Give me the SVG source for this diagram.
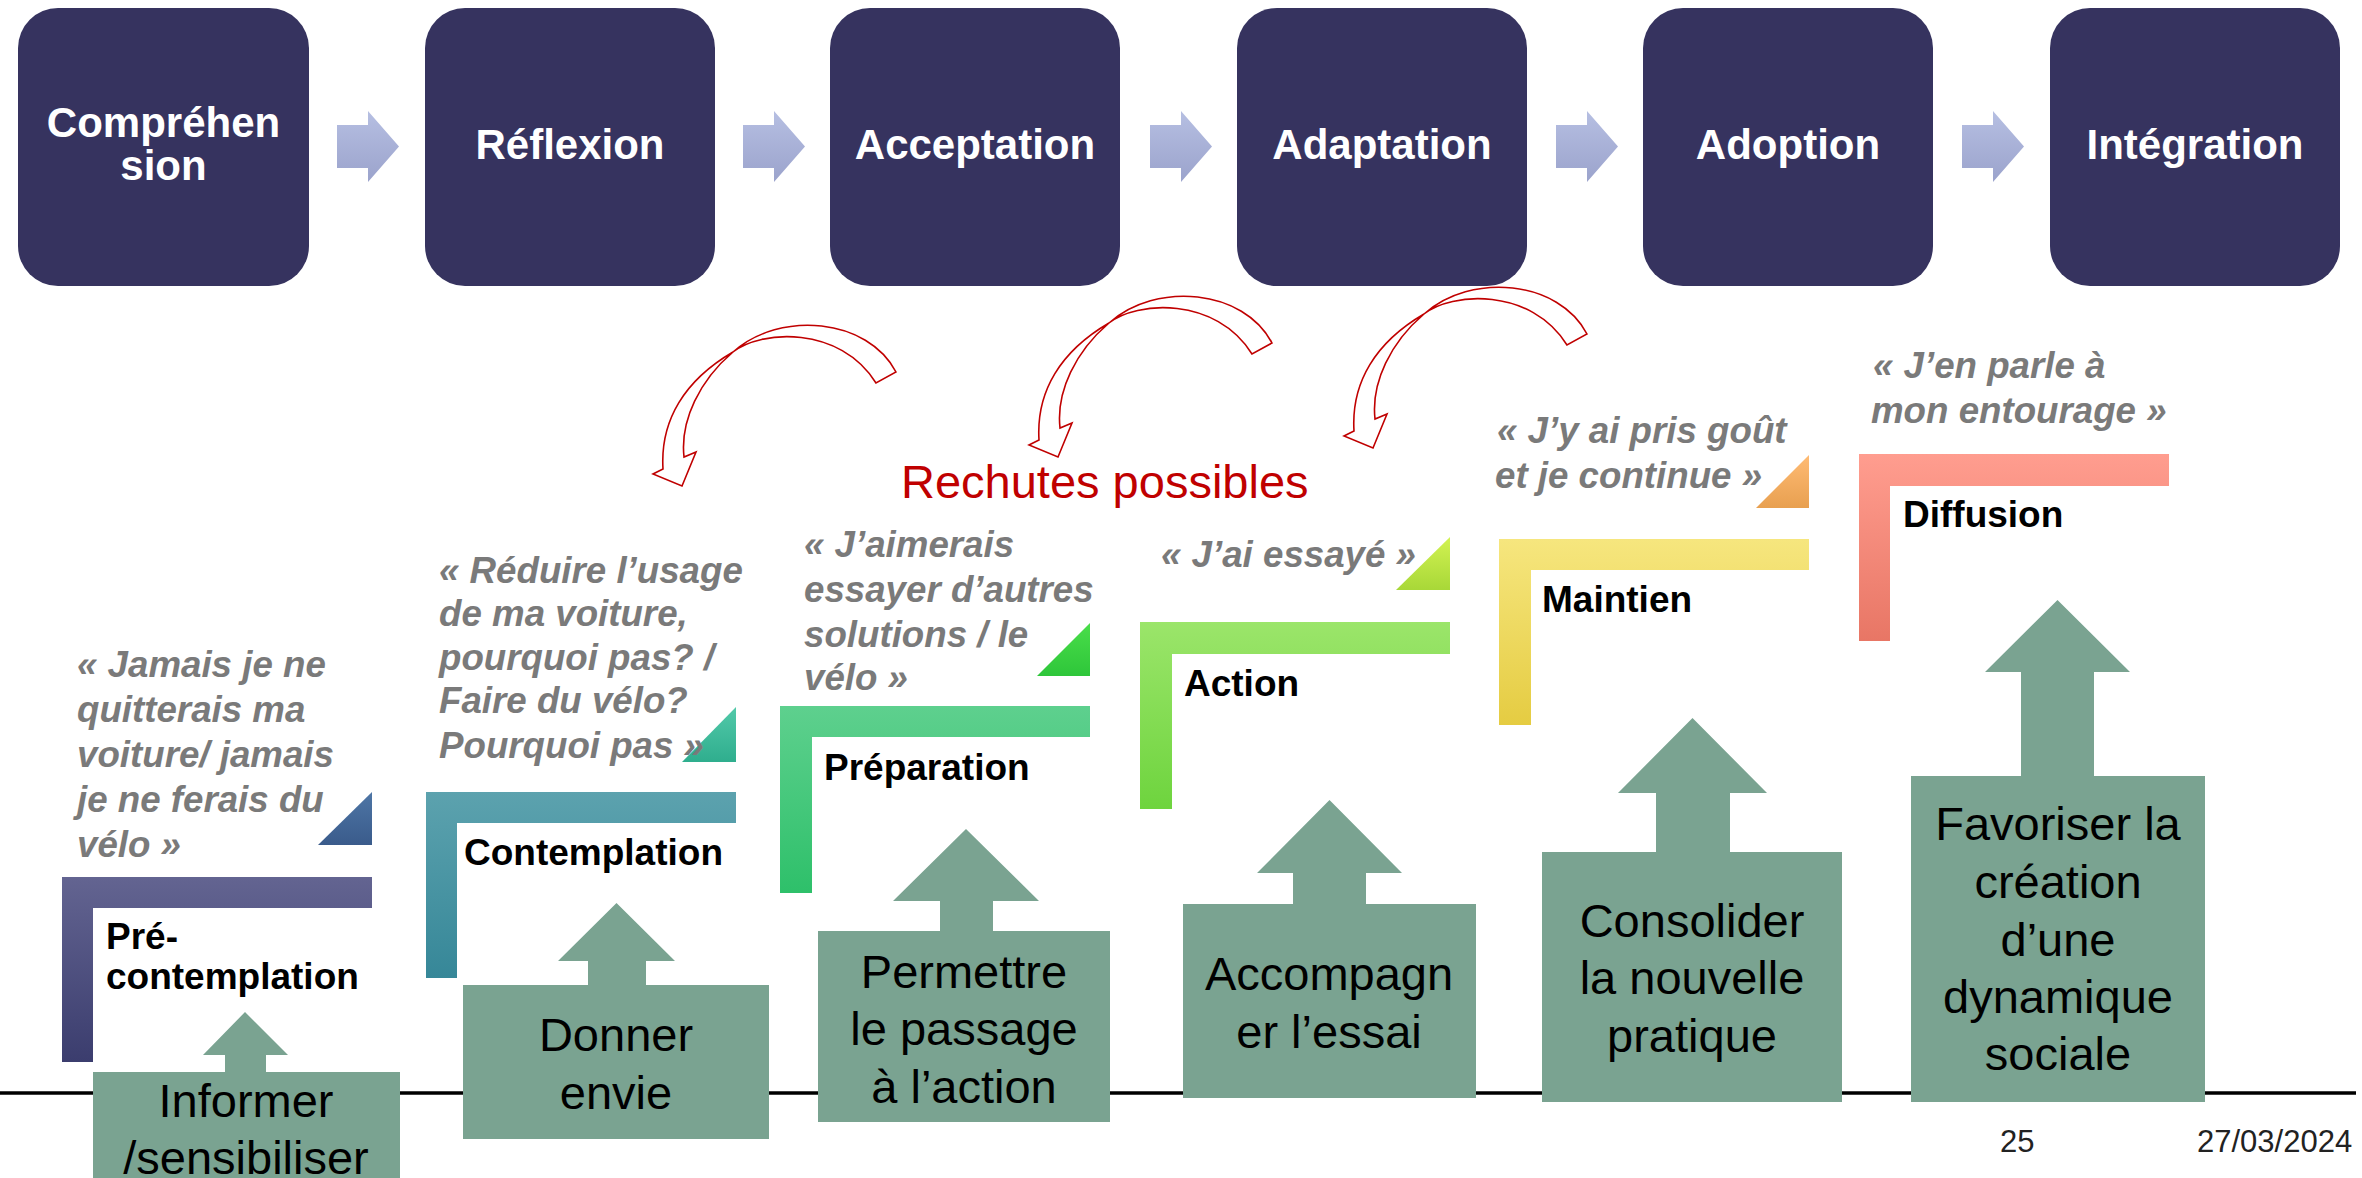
<svg xmlns="http://www.w3.org/2000/svg" width="2362" height="1178" viewBox="0 0 2362 1178">
<defs>
<linearGradient id="gArr" x1="0" y1="0" x2="0" y2="1"><stop offset="0" stop-color="#b6bfe2"/><stop offset="1" stop-color="#9ba3cc"/></linearGradient>
<linearGradient id="gL1" x1="0" y1="0" x2="0" y2="1"><stop offset="0" stop-color="#636491"/><stop offset="1" stop-color="#3b3d6e"/></linearGradient>
<linearGradient id="gT1" x1="0" y1="0" x2="0" y2="1"><stop offset="0" stop-color="#4e76a6"/><stop offset="1" stop-color="#3a5b8b"/></linearGradient>
<linearGradient id="gL2" x1="0" y1="0" x2="0" y2="1"><stop offset="0" stop-color="#5ca2ae"/><stop offset="1" stop-color="#368798"/></linearGradient>
<linearGradient id="gT2" x1="0" y1="0" x2="0" y2="1"><stop offset="0" stop-color="#52c9a9"/><stop offset="1" stop-color="#2fae8e"/></linearGradient>
<linearGradient id="gL3" x1="0" y1="0" x2="0" y2="1"><stop offset="0" stop-color="#5ed08e"/><stop offset="1" stop-color="#2ec06a"/></linearGradient>
<linearGradient id="gT3" x1="0" y1="0" x2="0" y2="1"><stop offset="0" stop-color="#4ade4a"/><stop offset="1" stop-color="#2ec63a"/></linearGradient>
<linearGradient id="gL4" x1="0" y1="0" x2="0" y2="1"><stop offset="0" stop-color="#9be56a"/><stop offset="1" stop-color="#6ed43e"/></linearGradient>
<linearGradient id="gT4" x1="0" y1="0" x2="0" y2="1"><stop offset="0" stop-color="#d2f252"/><stop offset="1" stop-color="#a8d838"/></linearGradient>
<linearGradient id="gL5" x1="0" y1="0" x2="0" y2="1"><stop offset="0" stop-color="#f6e67e"/><stop offset="1" stop-color="#e5cc42"/></linearGradient>
<linearGradient id="gT5" x1="0" y1="0" x2="0" y2="1"><stop offset="0" stop-color="#ffbb74"/><stop offset="1" stop-color="#e8a050"/></linearGradient>
<linearGradient id="gL6" x1="0" y1="0" x2="0" y2="1"><stop offset="0" stop-color="#ff9d8f"/><stop offset="1" stop-color="#e87665"/></linearGradient>
<path id="rechute" d="M 896 372 C 868 318 780 310 733 352 C 700 380 680 420 684 457 L 696 452 L 682 486 L 653 474 L 663 469 C 660 420 685 380 733 352 C 760 330 840 325 876 383 Z"/>
</defs>
<style>
text{font-family:"Liberation Sans",Arial,sans-serif}
.top{fill:#36335f}
.tt{fill:#fff;font-weight:bold;font-size:42px;text-anchor:middle}
.q{fill:#7a7a7a;font-weight:bold;font-style:italic;font-size:36.7px}
.lab{fill:#000;font-weight:bold;font-size:37px}
.act{fill:#7aa391}
.at{fill:#000;font-size:47px;text-anchor:middle}
.red{fill:#fff;stroke:#c00000;stroke-width:1.6}
.foot{fill:#222;font-size:31px}
</style>
<rect width="2362" height="1178" fill="#fff"/>

<!-- top process -->
<g id="n-comprehension"><rect class="top" x="18" y="8" width="291" height="278" rx="40"/><text class="tt" x="163.5" y="137">Compréhen</text><text class="tt" x="163.5" y="180">sion</text></g>
<g id="n-reflexion"><rect class="top" x="425" y="8" width="290" height="278" rx="40"/><text class="tt" x="570" y="159">Réflexion</text></g>
<g id="n-acceptation"><rect class="top" x="830" y="8" width="290" height="278" rx="40"/><text class="tt" x="975" y="159">Acceptation</text></g>
<g id="n-adaptation"><rect class="top" x="1237" y="8" width="290" height="278" rx="40"/><text class="tt" x="1382" y="159">Adaptation</text></g>
<g id="n-adoption"><rect class="top" x="1643" y="8" width="290" height="278" rx="40"/><text class="tt" x="1788" y="159">Adoption</text></g>
<g id="n-integration"><rect class="top" x="2050" y="8" width="290" height="278" rx="40"/><text class="tt" x="2195" y="159">Intégration</text></g>

<g id="connectors">
<path fill="url(#gArr)" d="M337 125 H368 V111 L399 146.5 L368 182 V168 H337 Z"/>
<path fill="url(#gArr)" d="M743 125 H774 V111 L805 146.5 L774 182 V168 H743 Z"/>
<path fill="url(#gArr)" d="M1150 125 H1181 V111 L1212 146.5 L1181 182 V168 H1150 Z"/>
<path fill="url(#gArr)" d="M1556 125 H1587 V111 L1618 146.5 L1587 182 V168 H1556 Z"/>
<path fill="url(#gArr)" d="M1962 125 H1993 V111 L2024 146.5 L1993 182 V168 H1962 Z"/>
<use href="#rechute" class="red"/>
<use href="#rechute" class="red" transform="translate(376,-29)"/>
<use href="#rechute" class="red" transform="translate(691,-38)"/>
</g>

<text x="901" y="498" fill="#c00000" font-size="47" font-family="Liberation Sans, Arial, sans-serif">Rechutes possibles</text>

<!-- baseline -->
<line x1="0" y1="1093" x2="2356" y2="1093" stroke="#000" stroke-width="3.5"/>

<!-- stages -->
<g id="s-precontemplation">
<path fill="url(#gL1)" d="M62 877 H372 V908 H93 V1062 H62 Z"/>
<path fill="url(#gT1)" d="M318 845 L372 792 V845 Z"/>
<text class="q"><tspan x="77" y="677">« Jamais je ne</tspan><tspan x="77" y="722">quitterais ma</tspan><tspan x="77" y="767">voiture/ jamais</tspan><tspan x="77" y="812">je ne ferais du</tspan><tspan x="77" y="857">vélo »</tspan></text>
<text class="lab"><tspan x="106" y="949">Pré-</tspan><tspan x="106" y="989">contemplation</tspan></text>
</g>
<g id="s-contemplation">
<path fill="url(#gL2)" d="M426 792 H736 V823 H457 V978 H426 Z"/>
<path fill="url(#gT2)" d="M682 762 L736 707 V762 Z"/>
<text class="q"><tspan x="439" y="583">« Réduire l’usage</tspan><tspan x="439" y="626">de ma voiture,</tspan><tspan x="439" y="670">pourquoi pas? /</tspan><tspan x="439" y="713">Faire du vélo?</tspan><tspan x="439" y="758">Pourquoi pas »</tspan></text>
<text class="lab" x="464" y="865">Contemplation</text>
</g>
<g id="s-preparation">
<path fill="url(#gL3)" d="M780 706 H1090 V737 H812 V893 H780 Z"/>
<path fill="url(#gT3)" d="M1037 676 L1090 623 V676 Z"/>
<text class="q"><tspan x="804" y="557">« J’aimerais</tspan><tspan x="804" y="602">essayer d’autres</tspan><tspan x="804" y="647">solutions / le</tspan><tspan x="804" y="690">vélo »</tspan></text>
<text class="lab" x="824" y="780">Préparation</text>
</g>
<g id="s-action">
<path fill="url(#gL4)" d="M1140 622 H1450 V654 H1172 V809 H1140 Z"/>
<path fill="url(#gT4)" d="M1396 590 L1450 537 V590 Z"/>
<text class="q" x="1161" y="567">« J’ai essayé »</text>
<text class="lab" x="1184" y="696">Action</text>
</g>
<g id="s-maintien">
<path fill="url(#gL5)" d="M1499 539 H1809 V570 H1531 V725 H1499 Z"/>
<path fill="url(#gT5)" d="M1756 508 L1809 455 V508 Z"/>
<text class="q"><tspan x="1497" y="443">« J’y ai pris goût</tspan><tspan x="1495" y="488">et je continue »</tspan></text>
<text class="lab" x="1542" y="612">Maintien</text>
</g>
<g id="s-diffusion">
<path fill="url(#gL6)" d="M1859 454 H2169 V486 H1890 V641 H1859 Z"/>
<text class="q"><tspan x="1873" y="378">« J’en parle à</tspan><tspan x="1871" y="423">mon entourage »</tspan></text>
<text class="lab" x="1903" y="527">Diffusion</text>
</g>

<!-- actions -->
<g id="a-informer">
<path class="act" d="M93 1072 H225 V1055 H203 L245 1012 L288 1055 H266 V1072 H400 V1190 H93 Z"/>
<text class="at"><tspan x="246" y="1117">Informer</tspan><tspan x="246" y="1174">/sensibiliser</tspan></text>
</g>
<g id="a-donner">
<path class="act" d="M463 985 H588 V961 H558 L616.5 903 L675 961 H646 V985 H769 V1139 H463 Z"/>
<text class="at"><tspan x="616" y="1051">Donner</tspan><tspan x="616" y="1109">envie</tspan></text>
</g>
<g id="a-permettre">
<path class="act" d="M818 931 H940 V901 H893 L966 829 L1039 901 H993 V931 H1110 V1122 H818 Z"/>
<text class="at"><tspan x="964" y="988">Permettre</tspan><tspan x="964" y="1045">le passage</tspan><tspan x="964" y="1103">à l’action</tspan></text>
</g>
<g id="a-accompagner">
<path class="act" d="M1183 904 H1293 V873 H1257 L1329.5 800 L1402 873 H1366 V904 H1476 V1098 H1183 Z"/>
<text class="at"><tspan x="1329" y="990">Accompagn</tspan><tspan x="1329" y="1048">er l’essai</tspan></text>
</g>
<g id="a-consolider">
<path class="act" d="M1542 852 H1656 V793 H1618 L1692.5 718 L1767 793 H1730 V852 H1842 V1102 H1542 Z"/>
<text class="at"><tspan x="1692" y="937">Consolider</tspan><tspan x="1692" y="994">la nouvelle</tspan><tspan x="1692" y="1052">pratique</tspan></text>
</g>
<g id="a-favoriser">
<path class="act" d="M1911 776 H2021 V672 H1985 L2057.5 600 L2130 672 H2094 V776 H2205 V1102 H1911 Z"/>
<text class="at"><tspan x="2058" y="840">Favoriser la</tspan><tspan x="2058" y="898">création</tspan><tspan x="2058" y="956">d’une</tspan><tspan x="2058" y="1013">dynamique</tspan><tspan x="2058" y="1070">sociale</tspan></text>
</g>

<text class="foot" x="2000" y="1152">25</text>
<text class="foot" x="2197" y="1152">27/03/2024</text>
</svg>
